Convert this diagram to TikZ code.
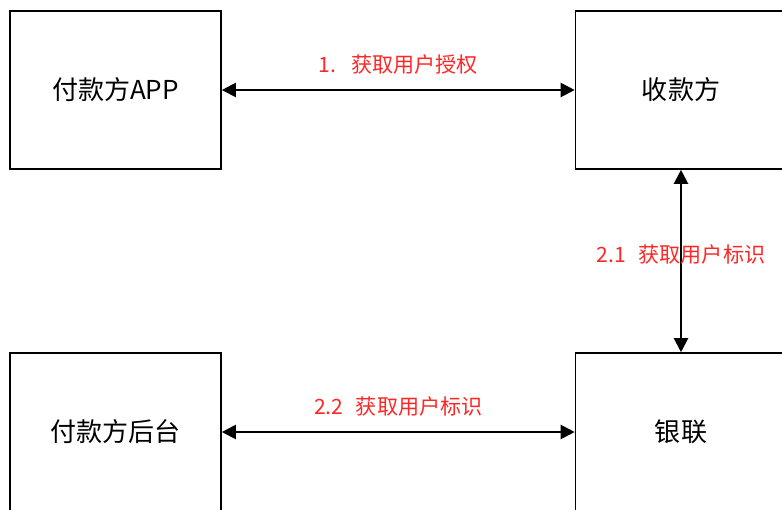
\documentclass[tikz,border=0pt]{standalone}
\usepackage{fontspec}
\setmainfont{Noto Sans CJK SC}
\usetikzlibrary{arrows.meta, positioning}

\tikzset{
  party/.style={draw=black, line width=1.1pt, minimum width=5.275cm, minimum height=3.95cm, inner sep=0pt, font=\fontsize{18.5}{22}\selectfont},
  flow/.style={line width=1.5pt, arrows={Triangle[length=10pt,width=10pt]-Triangle[length=10pt,width=10pt]}},
  step label/.style={text=red!85!white, font=\fontsize{15}{18}\selectfont}
}

\begin{document}
\begin{tikzpicture}[x=0.025cm, y=-0.025cm]
  \clip (0,0) rectangle (782,509);
  \useasboundingbox (0,0) rectangle (782,509);
  % the four parties
  \node[party] (app) at (115.5,90) {付款方APP};
  \node[party] (payee) at (681,90) {收款方};
  \node[party] (backend) at (115.5,432) {付款方后台};
  \node[party] (unionpay) at (681,432) {银联};
  % exchanges
  \draw[flow] (app) -- (payee) node[midway, above=0.25cm, step label] (auth) {1.\hspace{0.7em}获取用户授权};
  \draw[flow] (payee) -- (unionpay) node[midway, yshift=0.17cm, step label] (ident) {2.1\hspace{0.6em}获取用户标识};
  \draw[flow] (backend) -- (unionpay) node[midway, above=0.25cm, step label] (ident2) {2.2\hspace{0.6em}获取用户标识};
\end{tikzpicture}
\end{document}
